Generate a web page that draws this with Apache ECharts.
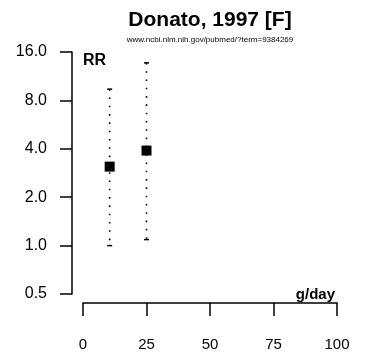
<!DOCTYPE html>
<html>
<head>
<meta charset="utf-8">
<script src="https://cdn.jsdelivr.net/npm/echarts@6/dist/echarts.min.js"></script>
<style>
  html, body { margin: 0; padding: 0; background: #fff; }
  #container { width: 373px; height: 363px; }
</style>
</head>
<body>
<div id="container"></div>
<script>
// dose (g/day) and relative risk with 95% CI
const doses = [10.5, 25];
const rr = [3.1, 3.9];
const ciLow = [1.0, 1.09];
const ciHigh = [9.4, 13.7];
const xTicks = [0, 25, 50, 75, 100];

const font = 'Liberation Sans, Arial, Helvetica, sans-serif';

var dom = document.getElementById('container');
var myChart = echarts.init(dom);

var points = doses.map((d, i) => [d, rr[i]]);
var bars = doses.map((d, i) => [d, ciLow[i], ciHigh[i]]);

var option = {
    animation: false,
    backgroundColor: '#fff',
    textStyle: { fontFamily: font },
    grid: { left: 83, right: 36, top: 52, bottom: 69 },
    graphic: [
        { type: 'text', x: 210, y: 20.5, style: { text: 'Donato, 1997 [F]', font: 'bold 21px ' + font, fill: '#000', textAlign: 'center', textVerticalAlign: 'middle' } },
        { type: 'text', x: 210, y: 40, style: { text: 'www.ncbi.nlm.nih.gov/pubmed/?term=9384269', font: '8px ' + font, fill: '#000', textAlign: 'center', textVerticalAlign: 'middle' } },
        { type: 'text', x: 83, y: 61, style: { text: 'RR', font: 'bold 16px ' + font, fill: '#000', textAlign: 'left', textVerticalAlign: 'middle' } },
        { type: 'text', x: 335, y: 295, style: { text: 'g/day', font: 'bold 15px ' + font, fill: '#000', textAlign: 'right', textVerticalAlign: 'middle' } }
    ],
    xAxis: {
        type: 'value',
        min: xTicks[0],
        max: xTicks[xTicks.length - 1],
        interval: 25,
        offset: 9,
        splitLine: { show: false },
        axisLine: { onZero: false, lineStyle: { color: '#000', width: 1.5 } },
        axisTick: { length: 13, lineStyle: { color: '#000', width: 1.5 } },
        axisLabel: { margin: 34, color: '#000', fontSize: 15, fontFamily: font }
    },
    yAxis: {
        type: 'log',
        logBase: 2,
        min: 0.5,
        max: 16,
        splitNumber: 5,
        offset: 11,
        splitLine: { show: false },
        axisLine: { show: true, onZero: false, lineStyle: { color: '#000', width: 1.5 } },
        axisTick: { show: true, length: 12, lineStyle: { color: '#000', width: 1.5 } },
        axisLabel: {
            margin: 25, color: '#000', fontSize: 16, fontFamily: font,
            formatter: (v) => Number(v).toFixed(1)
        }
    },
    series: [
        {
            type: 'custom',
            data: bars,
            renderItem: function (params, api) {
                var top = api.coord([api.value(0), api.value(2)]);
                var bot = api.coord([api.value(0), api.value(1)]);
                var x = top[0];
                return {
                    type: 'group',
                    children: [
                        { type: 'line', shape: { x1: x, y1: top[1], x2: x, y2: bot[1] }, style: { stroke: '#000', lineWidth: 1.6, lineDash: [1.6, 6.7] } },
                        { type: 'line', shape: { x1: x - 2.5, y1: top[1], x2: x + 2.5, y2: top[1] }, style: { stroke: '#000', lineWidth: 1.5 } },
                        { type: 'line', shape: { x1: x - 2.5, y1: bot[1], x2: x + 2.5, y2: bot[1] }, style: { stroke: '#000', lineWidth: 1.5 } }
                    ]
                };
            },
            z: 1
        },
        {
            type: 'scatter',
            data: points,
            symbol: 'rect',
            symbolSize: 10,
            itemStyle: { color: '#000', opacity: 1 },
            z: 2
        }
    ]
};

myChart.setOption(option);
window.addEventListener('resize', myChart.resize);
</script>
</body>
</html>
